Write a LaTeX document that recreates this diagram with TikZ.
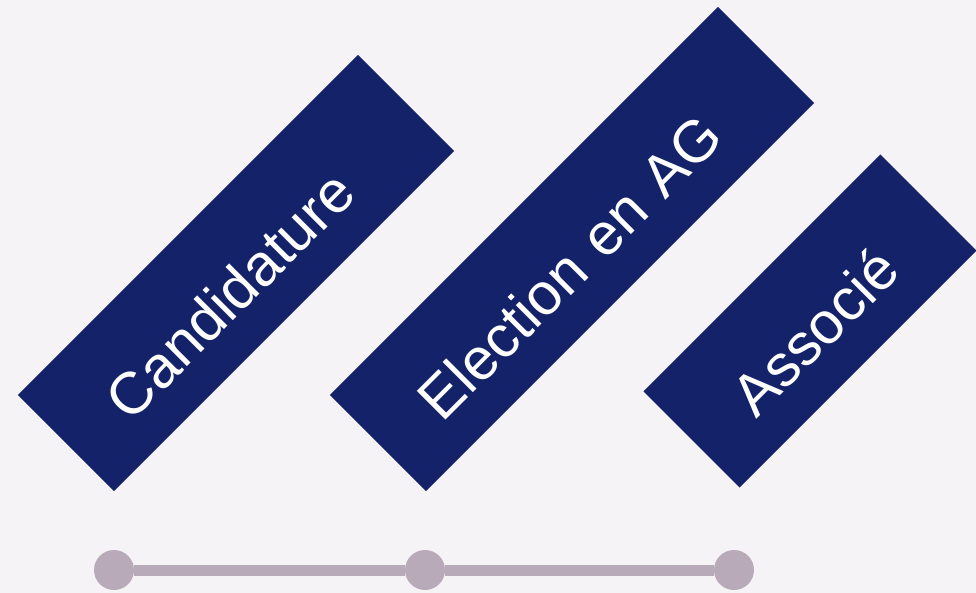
\documentclass[tikz,border=0pt]{standalone}
\usepackage{fontspec}
\setmainfont{Liberation Sans}
\usepackage{tikz}

\definecolor{fond}{RGB}{245,243,246}
\definecolor{marine}{RGB}{20,34,106}
\definecolor{lilas}{RGB}{184,170,185}

\begin{document}
\begin{tikzpicture}[x=1pt,y=-1pt,
    etape/.style={fill=marine, text=white, rotate=45, inner ysep=0pt,
      inner xsep=60pt, align=left, minimum height=136pt,
      text height=64pt, text depth=0pt, font=\fontsize{59}{59}\selectfont},
    jalon/.style={circle, fill=lilas, minimum size=40pt, inner sep=0pt}]
    \fill[fond] (0,0) rectangle (976,593);
    \useasboundingbox (0,0) rectangle (976,593);

    \node[etape, text width=361pt] (b1) at (236,273) {Candidature};
    \node[etape, text width=429pt] (b2) at (572,249) {Election en AG};
    \node[etape, text width=215pt] (b3) at (810,321) {Associé};

    \node[jalon] (p1) at (114,570) {};
    \node[jalon] (p2) at (425,570) {};
    \node[jalon] (p3) at (734,570) {};
    \draw[lilas, line width=11pt] (p1) -- (p2) -- (p3);
    % \draw (p1) node{$1$};
  \end{tikzpicture}
\end{document}
